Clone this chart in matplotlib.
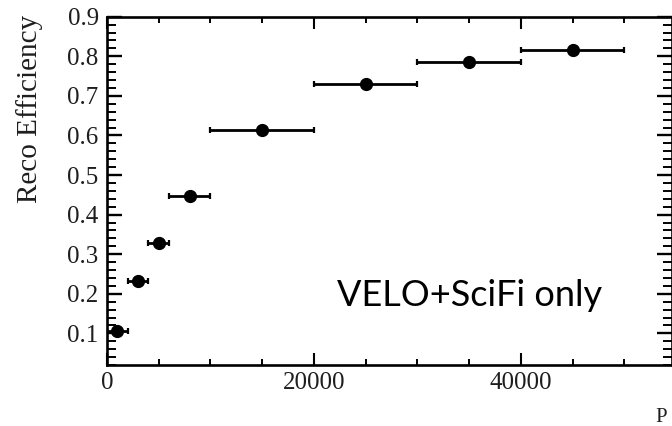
import numpy as np
import matplotlib.pyplot as plt
from matplotlib.ticker import MultipleLocator

# momentum bins (centre, half width) and reconstruction efficiency
p_centre = [1000, 3000, 5000, 8000, 15000, 25000, 35000, 45000]
p_halfwidth = [1000, 1000, 1000, 2000, 5000, 5000, 5000, 5000]
efficiency = [0.106, 0.232, 0.329, 0.448, 0.614, 0.730, 0.785, 0.816]
eff_err = [0.010, 0.009, 0.009, 0.007, 0.005, 0.005, 0.008, 0.005]

W, H = 672, 426
fig = plt.figure(figsize=(W / 100, H / 100), dpi=100)
ax = fig.add_axes([107 / W, 1 - 365 / H, 1 - 107 / W, (365 - 16.7) / H])

ax.errorbar(p_centre, efficiency, xerr=p_halfwidth, yerr=eff_err,
            fmt='o', color='black', markersize=8.5, elinewidth=2,
            capsize=2, capthick=1.6)

ax.set_xlim(0, 54600)
ax.set_ylim(0.02, 0.9)
ax.xaxis.set_major_locator(MultipleLocator(20000))
ax.xaxis.set_minor_locator(MultipleLocator(5000))
ax.yaxis.set_minor_locator(MultipleLocator(0.02))
ax.set_yticks([0.1, 0.2, 0.3, 0.4, 0.5, 0.6, 0.7, 0.8, 0.9])
ax.set_yticklabels(['0.1', '0.2', '0.3', '0.4', '0.5', '0.6', '0.7', '0.8', '0.9'])

serif = 'Liberation Serif'
ax.tick_params(which='both', direction='in', top=True, right=True)
ax.tick_params(axis='y', which='major', length=11, width=1.7, pad=6)
ax.tick_params(axis='y', which='minor', length=6.5, width=1.4)
ax.tick_params(axis='x', which='major', length=8.5, width=1.5, pad=5)
ax.tick_params(axis='x', which='minor', length=4.5, width=1.4)
for lab in ax.get_xticklabels() + ax.get_yticklabels():
    lab.set_fontfamily(serif)
    lab.set_fontsize(18)
    lab.set_color('#1e1e1e')
for s in ax.spines.values():
    s.set_linewidth(1.9)

fig.text(30 / W, 1 - 109 / H, 'Reco Efficiency', rotation=90,
         ha='center', va='center', fontfamily=serif, fontsize=21, color='#1e1e1e')
fig.text(655 / W, 1 - 408 / H, 'P', ha='left', va='top',
         fontfamily=serif, fontsize=15, color='#1e1e1e')

ax.text(337 / W, 1 - 296 / H, 'VELO+SciFi only', transform=fig.transFigure,
        ha='left', va='center', fontfamily='Lato', fontsize=26, color='black')

fig.savefig('out.png', dpi=100)
